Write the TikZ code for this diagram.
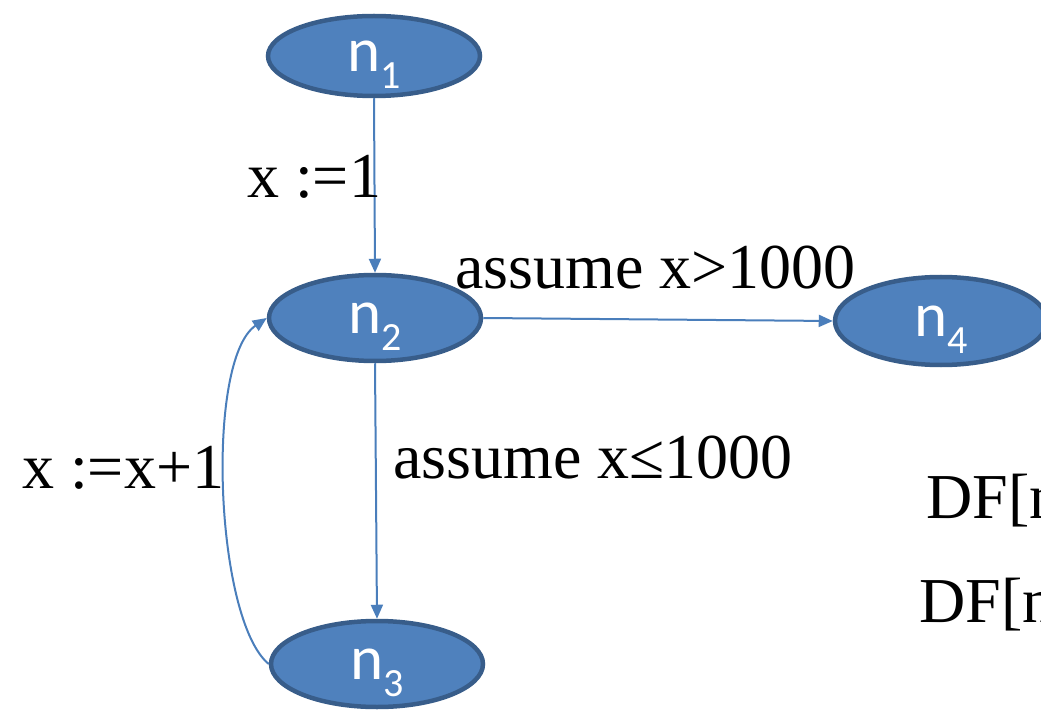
\documentclass[tikz,border=0pt]{standalone}
\usepackage{fontspec}
\setmainfont{Liberation Serif}
\newfontfamily\calib{Carlito}
\usetikzlibrary{shapes.geometric,arrows.meta}
\definecolor{nodefill}{HTML}{4F81BD}
\definecolor{nodeline}{HTML}{385D8A}
\definecolor{edgecol}{HTML}{4A7EBB}
\tikzset{
 state/.style={ellipse, fill=nodefill, draw=nodeline, line width=4.5pt, minimum width=212pt, inner sep=0pt, text=white, font=\calib\fontsize{63}{63}\selectfont},
 edge/.style={draw=edgecol, line width=2pt, -{Triangle[length=14pt,width=12pt]}},
 lab/.style={font=\fontsize{64}{70}\selectfont, inner sep=0pt, anchor=base west}
}
\newcommand{\nlab}[1]{n\raisebox{-17pt}[0pt][0pt]{\fontsize{40}{40}\selectfont #1}}
\begin{document}
\begin{tikzpicture}[x=1pt,y=-1pt]
\useasboundingbox (0,0) rectangle (1041,711);
\clip (0,0) rectangle (1041,711);
\node[state, minimum height=80pt] (n1) at (374,56) {\nlab{1}};
\node[state, minimum height=86pt] (n2) at (375,318) {\nlab{2}};
\node[state, minimum height=86pt] (n3) at (377,664) {\nlab{3}};
\node[state, minimum height=88pt] (n4) at (941,321) {\nlab{4}};
\draw[edge] (n1.south) -- (n2.north);
\draw[edge] (n2.east) -- (n4.west);
\draw[edge] (n2.south) -- (n3.north);
\draw[edge] (n3.west) .. controls (215,620) and (205,360) .. (n2.west);
\node[lab] (l1) at (247,198) {x :=1};
\node[lab] (l2) at (455,288) {assume x>1000};
\node[lab] (l3) at (393,478) {assume x≤1000};
\node[lab] (l4) at (22,488) {x :=x+1};
\node[lab] (d1) at (926,518) {DF[n};
\node[lab] (d2) at (919,622) {DF[n};
\end{tikzpicture}
\end{document}
